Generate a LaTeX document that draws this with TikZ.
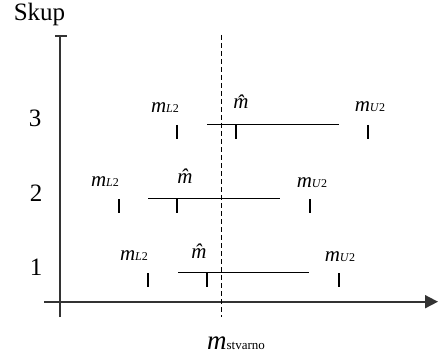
\documentclass[tikz,border=0pt]{standalone}
\usepackage{fontspec}
\setmainfont{Liberation Serif}
\usetikzlibrary{arrows.meta}
\tikzset{
  lbl/.style={anchor=base, inner sep=0pt, font=\fontsize{21}{24}\selectfont},
  big/.style={lbl, font=\fontsize{25}{28}\selectfont},
  axis/.style={draw=black!80, line width=1.8pt},
  interval/.style={draw=black, line width=0.9pt},
  mark tick/.style={draw=black, line width=1.1pt},
  truth/.style={draw=black, line width=0.9pt, dash pattern=on 5pt off 3pt},
}
% estimate labels: m with a small subscript sitting on the baseline
\newcommand{\lowsub}[1]{\textit{m}{\fontsize{12}{14}\selectfont#1}}
\newcommand{\mL}{\lowsub{\textit{L}2}}
\newcommand{\mU}{\lowsub{\textit{U}2}}
\newcommand{\mhat}{\textit{\^m}}
\begin{document}
\begin{tikzpicture}[x=1pt,y=-1pt]
  \useasboundingbox (0,0) rectangle (438,358);

  % axes
  \coordinate (ytop) at (60,36);
  \coordinate (ybot) at (60,317);
  \coordinate (xl) at (44,301.7);
  \coordinate (xr) at (438,301.7);
  \draw[axis] (ybot) -- (ytop);
  \draw[axis, line width=1.3pt] (55,36) -- (67,36);
  \draw[axis, -{Triangle[length=13pt,width=13pt]}] (xl) -- (xr);

  % true value
  \coordinate (ttop) at (221.7,35);
  \coordinate (tbot) at (221.7,317);
  \draw[truth] (ttop) -- (tbot);

  \node[big] (skup) at (39.5,21) {Skup};
  \node[big] (r3) at (35,127) {3};
  \node[big] (r2) at (36,201) {2};
  \node[big] (r1) at (36,275) {1};
  \node[lbl, font=\fontsize{27}{30}\selectfont] (mtrue) at (236,349)
    {\textit{m}{\fontsize{13}{15}\selectfont stvarno}};

  % sample 3
  \draw[interval] (207,124) -- (339,124);
  \draw[mark tick] (177,125) -- (177,139);
  \draw[mark tick] (236,125) -- (236,139);
  \draw[mark tick] (368,125) -- (368,139);
  \node[lbl] (l3) at (165,113) {\mL};
  \node[lbl] (h3) at (245,109) {\mhat};
  \node[lbl] (u3) at (370,112) {\mU};

  % sample 2
  \draw[interval] (148,198) -- (280,198);
  \draw[mark tick] (119,199) -- (119,213);
  \draw[mark tick] (177,199) -- (177,213);
  \draw[mark tick] (310,199) -- (310,213);
  \node[lbl] (l2) at (105,186) {\mL};
  \node[lbl] (h2) at (189,183) {\mhat};
  \node[lbl] (u2) at (312,187) {\mU};

  % sample 1
  \draw[interval] (178,272) -- (309,272);
  \draw[mark tick] (148,273) -- (148,287);
  \draw[mark tick] (207,273) -- (207,287);
  \draw[mark tick] (339,273) -- (339,287);
  \node[lbl] (l1) at (134,260) {\mL};
  \node[lbl] (h1) at (203,258) {\mhat};
  \node[lbl] (u1) at (340,261) {\mU};
\end{tikzpicture}
\end{document}
